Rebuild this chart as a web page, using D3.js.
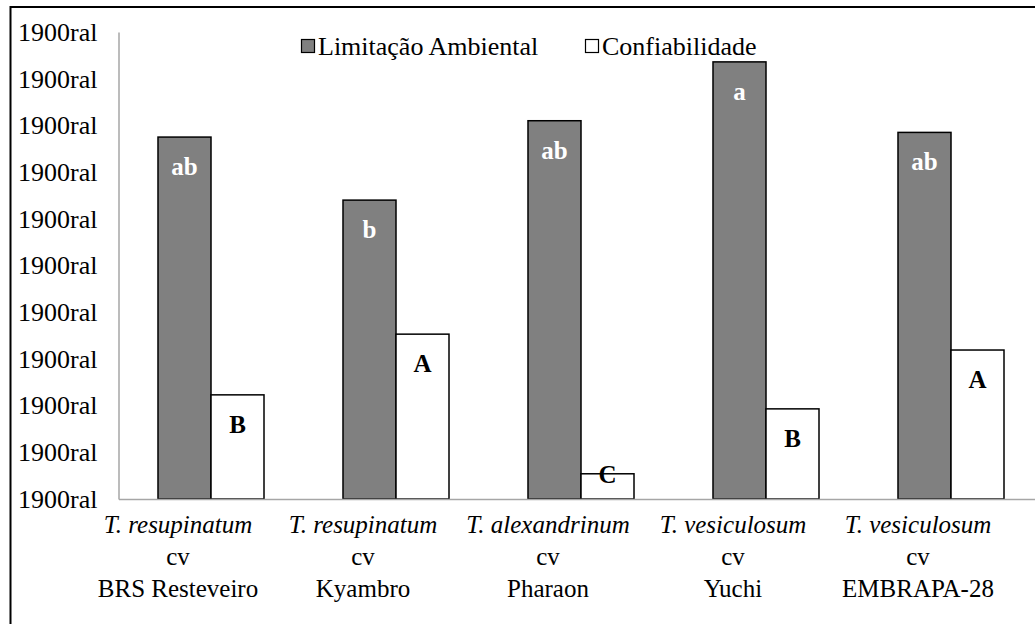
<!DOCTYPE html>
<html>
<head>
<meta charset="utf-8">
<script src="https://cdn.jsdelivr.net/npm/d3@7"></script>
<style>
  html, body { margin: 0; padding: 0; background: #fff; }
  svg { display: block; }
</style>
</head>
<body>
<div id="chart"></div>
<script>
// chart data
const species = ["T. resupinatum", "T. resupinatum", "T. alexandrinum", "T. vesiculosum", "T. vesiculosum"];
const cultivars = ["BRS Resteveiro", "Kyambro", "Pharaon", "Yuchi", "EMBRAPA-28"];
const limitacao = [7.75, 6.40, 8.10, 9.36, 7.85];
const confiabilidade = [2.23, 3.53, 0.54, 1.93, 3.19];
const letrasLim = ["ab", "b", "ab", "a", "ab"];
const letrasConf = ["B", "A", "C", "B", "A"];
const seriesNames = ["Limitação Ambiental", "Confiabilidade"];
const yTicks = [0, 1, 2, 3, 4, 5, 6, 7, 8, 9, 10];
const yTickLabels = ["1900ral", "1900ral", "1900ral", "1900ral", "1900ral", "1900ral",
  "1900ral", "1900ral", "1900ral", "1900ral", "1900ral"];

const FONT = "Liberation Serif";
const width = 1035, height = 624;
const plot = { left: 118.5, right: 1043.5, top: 32, bottom: 499 };
const colors = ["#808080", "#ffffff"];

const svg = d3.select("#chart").append("svg")
  .attr("width", width)
  .attr("height", height)
  .attr("font-family", FONT);

// outer chart frame (runs past the right/bottom edge like the source)
svg.append("rect")
  .attr("x", 10.5).attr("y", 7)
  .attr("width", 1040).attr("height", 630)
  .attr("fill", "none")
  .attr("stroke", "#000")
  .attr("stroke-width", 2);

const x = d3.scaleBand()
  .domain(d3.range(cultivars.length))
  .range([plot.left, plot.right])
  .paddingInner(0.427)
  .paddingOuter(0.2135);

const xs = d3.scaleBand()
  .domain([0, 1])
  .range([0, x.bandwidth()]);

const y = d3.scaleLinear()
  .domain([0, 10])
  .range([plot.bottom, plot.top]);

// y axis
const yAxis = svg.append("g")
  .attr("transform", `translate(${plot.left},0)`)
  .call(d3.axisLeft(y)
    .tickValues(yTicks)
    .tickSize(0)
    .tickSizeOuter(0)
    .tickPadding(21)
    .tickFormat((d, i) => yTickLabels[i]));
yAxis.attr("font-family", FONT);
yAxis.select(".domain").attr("stroke", "#a6a6a6").attr("stroke-width", 1.5);
yAxis.selectAll("text")
  .attr("font-size", 26)
  .attr("fill", "#000");

// bars
const rows = cultivars.map((c, i) => ({
  i,
  vals: [limitacao[i], confiabilidade[i]],
  letters: [letrasLim[i], letrasConf[i]]
}));

const groups = svg.append("g").selectAll("g")
  .data(rows)
  .join("g")
  .attr("transform", d => `translate(${x(d.i)},0)`);

const bars = groups.selectAll("g.bar")
  .data(d => d.vals.map((v, k) => ({ v, k, letter: d.letters[k] })))
  .join("g")
  .attr("class", "bar");

bars.append("rect")
  .attr("x", d => xs(d.k))
  .attr("y", d => y(d.v))
  .attr("width", xs.bandwidth())
  .attr("height", d => y(0) - y(d.v))
  .attr("fill", d => colors[d.k])
  .attr("stroke", "#000")
  .attr("stroke-width", 1.5);

bars.append("text")
  .attr("x", d => xs(d.k) + xs.bandwidth() / 2)
  .attr("y", d => {
    const h = y(0) - y(d.v);
    return y(d.v) + Math.min(38, h - 16);
  })
  .attr("text-anchor", "middle")
  .attr("font-size", 25)
  .attr("font-weight", "bold")
  .attr("fill", d => d.k === 0 ? "#fff" : "#000")
  .text(d => d.letter);

// x axis line
const xAxis = svg.append("g")
  .attr("transform", `translate(0,${plot.bottom})`)
  .call(d3.axisBottom(x).tickSize(0).tickSizeOuter(0).tickFormat(""));
xAxis.select(".domain").attr("stroke", "#a6a6a6").attr("stroke-width", 1.5);

// category labels (three lines each)
const labelOffset = -33;
const cats = svg.append("g").selectAll("text")
  .data(rows)
  .join("text")
  .attr("text-anchor", "middle")
  .attr("font-family", FONT)
  .attr("font-size", 25)
  .attr("fill", "#000");

cats.each(function(d) {
  const cx = x(d.i) + x.bandwidth() / 2 + labelOffset;
  const t = d3.select(this);
  t.append("tspan").attr("x", cx).attr("y", plot.bottom + 34)
    .attr("font-style", "italic").text(species[d.i]);
  t.append("tspan").attr("x", cx).attr("y", plot.bottom + 66).text("cv");
  t.append("tspan").attr("x", cx).attr("y", plot.bottom + 98).text(cultivars[d.i]);
});

// legend
const legendX = [301, 585];
const legend = svg.append("g").selectAll("g")
  .data(seriesNames)
  .join("g")
  .attr("transform", (d, i) => `translate(${legendX[i]},39)`);

legend.append("rect")
  .attr("x", 0.5).attr("y", 0.5)
  .attr("width", 13).attr("height", 13)
  .attr("fill", (d, i) => colors[i])
  .attr("stroke", "#000")
  .attr("stroke-width", 1.2);

legend.append("text")
  .attr("x", 17)
  .attr("y", 16)
  .attr("font-family", FONT)
  .attr("font-size", 26)
  .attr("fill", "#000")
  .text(d => d);
</script>
</body>
</html>
